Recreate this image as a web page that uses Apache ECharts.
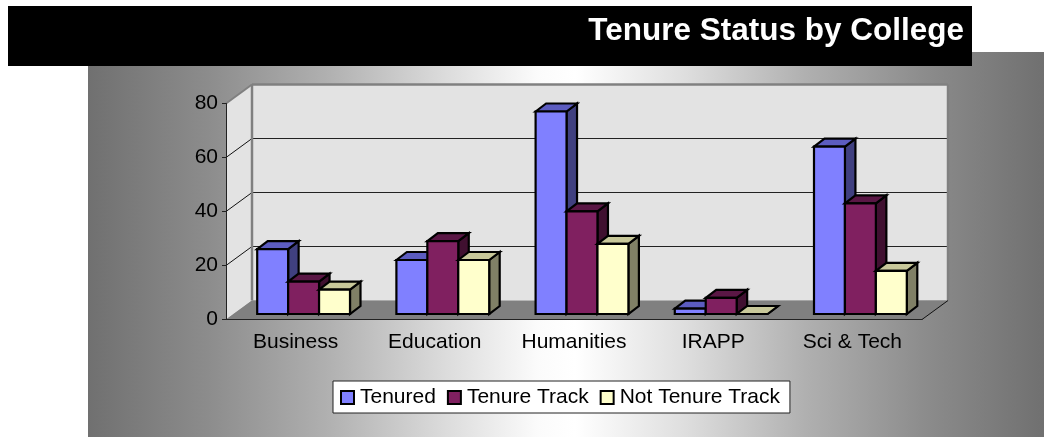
<!DOCTYPE html>
<html>
<head>
<meta charset="utf-8">
<style>
    html, body { margin: 0; padding: 0; background: #fff; }
    #chart { width: 1044px; height: 437px; }
</style>
<script src="https://cdn.jsdelivr.net/npm/echarts@6/dist/echarts.min.js"></script>
</head>
<body>
<div id="chart"></div>
<script>
    const colleges = ['Business', 'Education', 'Humanities', 'IRAPP', 'Sci & Tech'];
    const tenured = [24, 20, 75, 2, 62];
    const tenureTrack = [12, 27, 38, 6, 41];
    const notTenureTrack = [9, 20, 26, 0, 16];
    const wallTicks = [0, 20, 40, 60, 80];

    const FONT = '"Liberation Sans", Arial, sans-serif';
    // 3D look: how far the back wall and the bar boxes are pushed
    const WALL_DX = 26, WALL_DY = 19;
    const BAR_DX = 10.5, BAR_DY = 8;
    const BAR_SHIFT_X = 8, BAR_SHIFT_Y = -5.5;

    function poly(points, fill, stroke, width) {
        return {
            type: 'polygon',
            shape: {points: points},
            style: {fill: fill, stroke: stroke || null, lineWidth: width || 0, lineJoin: 'miter'}
        };
    }

    function line(a, b, color, width) {
        return {
            type: 'line',
            shape: {x1: a[0], y1: a[1], x2: b[0], y2: b[1]},
            style: {stroke: color, lineWidth: width}
        };
    }

    function renderWalls(params, api) {
        const band = api.size([1, 0])[0];
        const bottomLeft = api.coord([0, 0]);
        const topLeft = api.coord([0, 80]);
        const left = bottomLeft[0] - band / 2;
        const right = left + band * colleges.length;
        const y0 = bottomLeft[1], y1 = topLeft[1];
        const children = [
            // left wall
            poly([[left, y0], [left + WALL_DX, y0 - WALL_DY], [left + WALL_DX, y1 - WALL_DY], [left, y1]], '#e3e3e3'),
            // back wall
            poly([[left + WALL_DX, y0 - WALL_DY], [right + WALL_DX, y0 - WALL_DY], [right + WALL_DX, y1 - WALL_DY], [left + WALL_DX, y1 - WALL_DY]], '#e3e3e3'),
            // floor
            poly([[left, y0], [right, y0], [right + WALL_DX, y0 - WALL_DY], [left + WALL_DX, y0 - WALL_DY]], '#808080')
        ];
        wallTicks.forEach(function (t) {
            const y = api.coord([0, t])[1];
            if (t > 0 && t < 80) {
                children.push(line([left, y], [left + WALL_DX, y - WALL_DY], '#111', 1));
                children.push(line([left + WALL_DX, y - WALL_DY], [right + WALL_DX, y - WALL_DY], '#222', 1));
            }
        });
        // gray frame around the walls
        children.push(line([left, y1], [left + WALL_DX, y1 - WALL_DY], '#808080', 2));
        children.push(line([left + WALL_DX, y1 - WALL_DY], [right + WALL_DX, y1 - WALL_DY], '#808080', 2.5));
        children.push(line([left + WALL_DX, y1 - WALL_DY], [left + WALL_DX, y0 - WALL_DY], '#808080', 2.5));
        children.push(line([right + WALL_DX, y1 - WALL_DY], [right + WALL_DX, y0 - WALL_DY], '#808080', 2.5));
        children.push(line([right, y0], [right + WALL_DX, y0 - WALL_DY], '#111', 1));
        return {type: 'group', children: children};
    }

    function barRenderer(index, front, top, side) {
        return function (params, api) {
            const band = api.size([1, 0])[0];
            const barWidth = band / 4.5;
            const base = api.coord([api.value(0), 0]);
            const peak = api.coord([api.value(0), api.value(1)]);
            const x0 = base[0] + BAR_SHIFT_X + (index - 1.5) * barWidth;
            const x1 = x0 + barWidth;
            const y0 = base[1] + BAR_SHIFT_Y;
            const y1 = peak[1] + BAR_SHIFT_Y;
            return {
                type: 'group',
                children: [
                    poly([[x1, y1], [x1 + BAR_DX, y1 - BAR_DY], [x1 + BAR_DX, y0 - BAR_DY], [x1, y0]], side, '#000', 2.2),
                    poly([[x0, y1], [x0 + BAR_DX, y1 - BAR_DY], [x1 + BAR_DX, y1 - BAR_DY], [x1, y1]], top, '#000', 2.2),
                    poly([[x0, y0], [x1, y0], [x1, y1], [x0, y1]], front, '#000', 2.2)
                ]
            };
        };
    }

    function barSeries(name, values, index, front, top, side) {
        return {
            name: name,
            type: 'custom',
            renderItem: barRenderer(index, front, top, side),
            encode: {x: 0, y: 1},
            itemStyle: {color: front, borderColor: '#000', borderWidth: 2},
            data: values.map(function (v, i) { return [i, v]; })
        };
    }

    const chart = echarts.init(document.getElementById('chart'), null, {renderer: 'canvas'});
    chart.setOption({
        animation: false,
        textStyle: {fontFamily: FONT},
        graphic: [
            {
                type: 'rect',
                z: -10,
                shape: {x: 88, y: 52, width: 956, height: 385},
                style: {
                    fill: new echarts.graphic.LinearGradient(0, 0, 1, 0, [
                        {offset: 0, color: '#707070'},
                        {offset: 0.125, color: '#8c8c8c'},
                        {offset: 0.25, color: '#b0b0b0'},
                        {offset: 0.375, color: '#dcdcdc'},
                        {offset: 0.47, color: '#fbfbfb'},
                        {offset: 0.51, color: '#ffffff'},
                        {offset: 0.625, color: '#dedede'},
                        {offset: 0.75, color: '#b0b0b0'},
                        {offset: 0.875, color: '#8c8c8c'},
                        {offset: 1, color: '#707070'}
                    ])
                }
            },
            {
                type: 'rect',
                z: -9,
                shape: {x: 8, y: 6, width: 964, height: 60},
                style: {fill: '#000'}
            }
        ],
        title: {
            text: 'Tenure Status by College',
            right: 80,
            top: 15,
            padding: 0,
            textStyle: {color: '#fff', fontFamily: FONT, fontWeight: 'bold', fontSize: 31.5}
        },
        legend: {
            left: 333,
            top: 381,
            padding: [6, 10, 5, 7],
            backgroundColor: '#fff',
            borderColor: '#222',
            borderWidth: 1,
            borderRadius: 0,
            icon: 'rect',
            itemWidth: 13,
            itemHeight: 13,
            itemGap: 11,
            textStyle: {color: '#000', fontFamily: FONT, fontSize: 21, padding: [0, 0, 0, 1]},
            data: ['Tenured', 'Tenure Track', 'Not Tenure Track']
        },
        grid: {left: 226, right: 122, top: 103.5, bottom: 117.5, containLabel: false},
        xAxis: {
            type: 'category',
            data: colleges,
            z: 5,
            axisLine: {lineStyle: {color: '#222', width: 1}},
            axisTick: {length: 4, lineStyle: {color: '#222'}},
            axisLabel: {color: '#000', fontFamily: FONT, fontSize: 21, margin: 12}
        },
        yAxis: {
            type: 'value',
            min: 0,
            max: 80,
            interval: 20,
            z: 5,
            splitLine: {show: false},
            axisLine: {show: true, lineStyle: {color: '#222', width: 1}},
            axisTick: {show: true, length: 4, lineStyle: {color: '#222'}},
            axisLabel: {color: '#000', fontFamily: FONT, fontSize: 21, margin: 8, lineHeight: 26, verticalAlign: 'middle', padding: [5, 0, 0, 0]}
        },
        series: [
            {
                type: 'custom',
                silent: true,
                renderItem: renderWalls,
                encode: {x: 0, y: 1},
                data: [[0, 0]]
            },
            barSeries('Tenured', tenured, 0, '#8080ff', '#5c5cc0', '#404080'),
            barSeries('Tenure Track', tenureTrack, 1, '#802060', '#5a1745', '#401030'),
            barSeries('Not Tenure Track', notTenureTrack, 2, '#ffffcc', '#c8c89a', '#808066')
        ]
    });
</script>
</body>
</html>
